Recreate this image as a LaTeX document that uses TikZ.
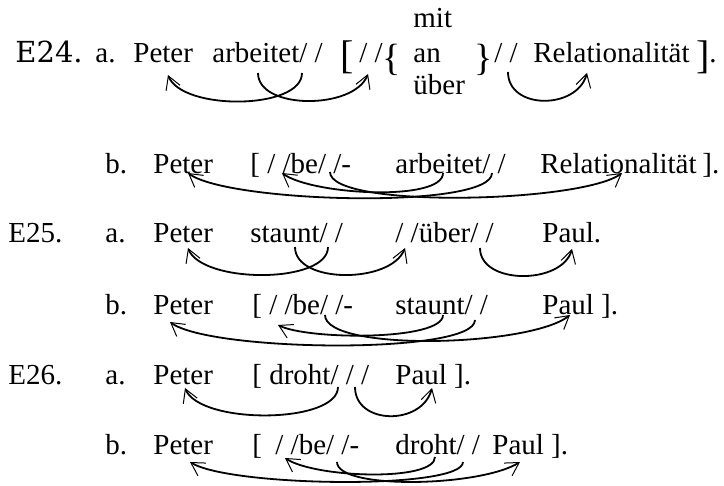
\documentclass[tikz,border=0pt]{standalone}
\usepackage{fontspec}
\setmainfont{Liberation Serif}
\newfontfamily\exfont{DejaVu Serif}
\usetikzlibrary{arrows.meta}

\tikzset{
  w/.style={anchor=base west,inner sep=0pt},
  brk/.style={inner sep=0pt,font=\fontsize{20}{22}\selectfont},
  brc/.style={inner sep=0pt,font=\fontsize{19}{21}\selectfont},
  bow/.style={line width=0.9pt,-{Straight Barb[length=6.5pt,width=7.5pt,line width=0.5pt]}},
}

\begin{document}
\begin{tikzpicture}[x=0.5pt,y=-0.5pt,font=\fontsize{14.5}{16}\selectfont]
                \useasboundingbox(0,0)rectangle(724,486);
                % E24 a
                \node[w](ex24)at(15,63){\exfont E24.};
                \node[w](a24)at(95,63){a.};
                \node[w](peterA)at(133,63){Peter};
                \node[w](arbA)at(212,63){arbeitet/ /};
                \node[brk](lbA)at(347,57.5){[};
                \node[w](slA)at(359,63){/ /};
                \node[brc](lcA)at(392,59.5){\{};
                \node[w](mit)at(413,28){mit};
                \node[w](an)at(413,63){an};
                \node[w](ueber)at(413,95){über};
                \node[brc](rcA)at(484,59.5){\}};
                \node[w](srA)at(494,63){/ /};
                \node[w](relA)at(533,63){Relationalität};
                \node[brk](rbA)at(703,57.5){]};
                \node[w](dotA)at(709,63){.};
                \coordinate(a1s)at(302,73);
                \coordinate(a1t)at(168,75);
                \coordinate(a2s)at(258,73);
                \coordinate(a2t)at(368,74);
                \coordinate(a3s)at(508,72);
                \coordinate(a3t)at(587,73);
                \draw[bow](a1s)..controls +(0,37) and +(14,36)..(a1t);
                \draw[bow](a2s)..controls +(0,37) and +(-14,36)..(a2t);
                \draw[bow](a3s)..controls +(0,38) and +(-10,37)..(a3t);
                % E24 b
                \node[w](b24)at(105,174){b.};
                \node[w](peterB)at(153,174){Peter};
                \node[w](beB)at(250,174){[ / /be/ /-};
                \node[w](arbB)at(395,174){arbeitet/ /};
                \node[w](relB)at(540,174){Relationalität};
                \node[w](rbB)at(702,174){].};
                \coordinate(b1s)at(443,173);
                \coordinate(b1t)at(282,173);
                \coordinate(b2s)at(492,173);
                \coordinate(b2t)at(188,173);
                \coordinate(b3s)at(330,172);
                \coordinate(b3t)at(622,173);
                \draw[bow](b1s)..controls +(0,29) and +(30,22)..(b1t);
                \draw[bow](b2s)..controls +(0,37) and +(40,30)..(b2t);
                \draw[bow](b3s)..controls +(0,37) and +(-40,30)..(b3t);
                % E25 a
                \node[w](ex25)at(8,243){E25.};
                \node[w](a25)at(105,243){a.};
                \node[w](peterC)at(153,243){Peter};
                \node[w](stC)at(250,243){staunt/ /};
                \node[w](ueC)at(395,243){/ /über/ /};
                \node[w](paulC)at(542,243){Paul.};
                \coordinate(c1s)at(328,247);
                \coordinate(c1t)at(188,248);
                \coordinate(c2s)at(295,247);
                \coordinate(c2t)at(405,248);
                \coordinate(c3s)at(480,248);
                \coordinate(c3t)at(572,249);
                \draw[bow](c1s)..controls +(0,37) and +(14,36)..(c1t);
                \draw[bow](c2s)..controls +(0,37) and +(-14,36)..(c2t);
                \draw[bow](c3s)..controls +(0,37) and +(-10,36)..(c3t);
                % E25 b
                \node[w](b25)at(105,315){b.};
                \node[w](peterD)at(153,315){Peter};
                \node[w](beD)at(252,315){[ / /be/ /-};
                \node[w](stD)at(395,315){staunt/ /};
                \node[w](paulD)at(542,315){Paul ].};
                \coordinate(d1s)at(443,315);
                \coordinate(d1t)at(278,325);
                \coordinate(d2s)at(475,320);
                \coordinate(d2t)at(170,322);
                \coordinate(d3s)at(325,315);
                \coordinate(d3t)at(570,315);
                \draw[bow](d1s)..controls +(0,26) and +(30,15)..(d1t);
                \draw[bow](d2s)..controls +(0,35) and +(40,30)..(d2t);
                \draw[bow](d3s)..controls +(0,37) and +(-40,32)..(d3t);
                % E26 a
                \node[w](ex26)at(8,385){E26.};
                \node[w](a26)at(105,385){a.};
                \node[w](peterE)at(153,385){Peter};
                \node[w](drE)at(252,385){[ droht/ / /};
                \node[w](paulE)at(395,385){Paul ].};
                \coordinate(e1s)at(338,387);
                \coordinate(e1t)at(185,388);
                \coordinate(e2s)at(355,387);
                \coordinate(e2t)at(432,388);
                \draw[bow](e1s)..controls +(0,37) and +(15,37)..(e1t);
                \draw[bow](e2s)..controls +(0,38) and +(-10,38)..(e2t);
                % E26 b
                \node[w](b26)at(105,455){b.};
                \node[w](peterF)at(153,455){Peter};
                \node[w](lbF)at(252,455){[};
                \node[w](beF)at(275,455){/ /be/ /-};
                \node[w](drF)at(395,455){droht/ /};
                \node[w](paulF)at(492,455){Paul ].};
                \coordinate(f1s)at(435,457);
                \coordinate(f1t)at(285,458);
                \coordinate(f2s)at(463,462);
                \coordinate(f2t)at(190,462);
                \coordinate(f3s)at(337,462);
                \coordinate(f3t)at(520,462);
                \draw[bow](f1s)..controls +(0,25) and +(30,20)..(f1t);
                \draw[bow](f2s)..controls +(0,28) and +(40,25)..(f2t);
                \draw[bow](f3s)..controls +(0,28) and +(-40,25)..(f3t);
            \end{tikzpicture}
\end{document}
